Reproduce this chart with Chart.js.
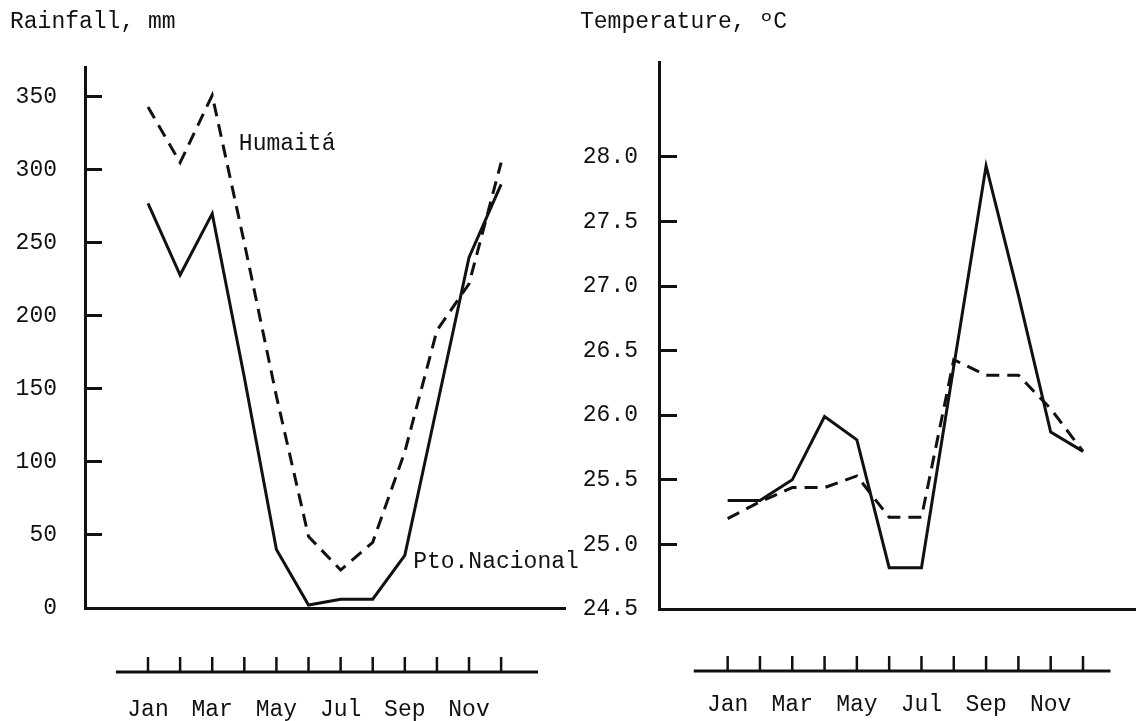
<!DOCTYPE html>
<html><head><meta charset="utf-8">
<script src="https://cdn.jsdelivr.net/npm/chart.js@4.4.0/dist/chart.umd.min.js"></script>
<style>
html,body{margin:0;padding:0;background:#fff;width:1136px;height:721px;overflow:hidden;position:relative}
canvas{position:absolute;top:0}
#rain{left:0}
#temp{left:570px}
</style></head><body>
<canvas id="rain" width="600" height="721"></canvas>
<canvas id="temp" width="595" height="721"></canvas>
<script>
// ---- data ----
const months = [1,2,3,4,5,6,7,8,9,10,11,12];
const monthLabels = ['Jan','','Mar','','May','','Jul','','Sep','','Nov',''];
const rainPtoNacional = [277,228,270,158,40,2,6,6,36,138,240,290];
const rainHumaita     = [343,305,351,250,145,49,26,45,107,190,222,305];
const rainTicks = [0,50,100,150,200,250,300,350];
const tempPtoNacional = [25.34,25.34,25.50,25.99,25.81,24.82,24.82,26.38,27.93,26.93,25.87,25.72];
const tempHumaita     = [25.20,25.33,25.44,25.44,25.53,25.21,25.21,26.43,26.31,26.31,26.05,25.72];
const tempTicks = [24.5,25.0,25.5,26.0,26.5,27.0,27.5,28.0];

const INK = '#111';
const FONT = 'Liberation Mono';
Chart.defaults.font.family = FONT;
Chart.defaults.font.size = 23;
Chart.defaults.color = INK;

function stripPlugin(cfg) {
  return {
    id: 'strip',
    afterDraw(chart) {
      const {ctx, chartArea} = chart;
      const x = chart.scales.x, y = chart.scales.y;
      const sy = chartArea.bottom + cfg.offset;
      ctx.save();
      ctx.strokeStyle = INK;
      ctx.lineCap = 'butt';
      ctx.lineWidth = 3;
      ctx.beginPath();
      ctx.moveTo(x.getPixelForValue(months[0] - cfg.padLeft), sy);
      ctx.lineTo(x.getPixelForValue(months[months.length-1] + cfg.padRight), sy);
      ctx.stroke();
      ctx.lineWidth = 2.5;
      months.forEach(m => {
        const px = x.getPixelForValue(m);
        ctx.beginPath();
        ctx.moveTo(px, sy);
        ctx.lineTo(px, sy - 15);
        ctx.stroke();
      });
      ctx.fillStyle = INK;
      ctx.font = '23px "' + FONT + '"';
      ctx.textBaseline = 'middle';
      ctx.textAlign = 'left';
      (cfg.notes || []).forEach(n => {
        ctx.fillText(n.text, x.getPixelForValue(n.x), y.getPixelForValue(n.y));
      });
      ctx.restore();
    }
  };
}

function lineDs(label, vals, dashed) {
  return {
    label,
    data: vals.map((v, i) => ({x: months[i], y: v})),
    borderColor: INK,
    borderWidth: 3,
    borderDash: dashed ? [13, 8] : [],
    pointRadius: 0,
    tension: 0,
    fill: false
  };
}

function makeOptions(o) {
  return {
    responsive: false,
    animation: false,
    devicePixelRatio: 1,
    layout: {padding: o.layoutPad},
    plugins: {
      legend: {display: false},
      tooltip: {enabled: false},
      title: {
        display: true, text: o.title, align: 'start', color: INK,
        font: {size: 23, family: FONT, weight: 'normal'},
        padding: {top: 8, bottom: o.titleBottom}
      }
    },
    scales: {
      x: {
        type: 'linear', min: o.xMin, max: o.xMax,
        afterBuildTicks: s => { s.ticks = months.map(v => ({value: v})); },
        afterFit: s => { s.height = o.xHeight; },
        ticks: {autoSkip: false, maxRotation: 0, minRotation: 0, padding: o.xPad,
                callback: v => monthLabels[v - 1] || ''},
        grid: {display: false, drawTicks: false},
        border: {display: true, width: 3, color: INK}
      },
      y: {
        min: o.yMin, max: o.yMax,
        afterBuildTicks: s => { s.ticks = o.yTicks.map(v => ({value: v})); },
        afterFit: s => { s.width = o.yWidth; },
        ticks: {padding: o.yPad, callback: o.yFmt},
        grid: {display: true, drawOnChartArea: false, drawTicks: true,
               tickLength: o.tickLen, tickWidth: 3, tickColor: INK, color: INK, lineWidth: 3},
        border: {display: true, width: 3, color: INK}
      }
    }
  };
}

new Chart(document.getElementById('rain'), {
  type: 'line',
  data: {datasets: [lineDs('Pto.Nacional', rainPtoNacional, false), lineDs('Humaitá', rainHumaita, true)]},
  options: makeOptions({
    title: 'Rainfall, mm', titleBottom: 32,
    layoutPad: {left: 10, right: 35, top: 0, bottom: 0},
    xMin: -0.963, xMax: 13.99, xHeight: 113, xPad: 88,
    yMin: 0, yMax: 370, yTicks: rainTicks, yWidth: 75, yPad: 45, tickLen: -17,
    yFmt: v => String(v)
  }),
  plugins: [stripPlugin({offset: 64, padLeft: 1.0, padRight: 1.15,
    notes: [{text: 'Humaitá', x: 3.83, y: 318}, {text: 'Pto.Nacional', x: 9.26, y: 31.5}]})]
});

new Chart(document.getElementById('temp'), {
  type: 'line',
  data: {datasets: [lineDs('Pto.Nacional', tempPtoNacional, false), lineDs('Humaitá', tempHumaita, true)]},
  options: makeOptions({
    title: 'Temperature, ºC', titleBottom: 27,
    layoutPad: {left: 10, right: 0, top: 0, bottom: 0},
    xMin: -1.125, xMax: 13.78, xHeight: 112, xPad: 82,
    yMin: 24.5, yMax: 28.73, yTicks: tempTicks, yWidth: 79, yPad: 39, tickLen: -18,
    yFmt: v => v.toFixed(1)
  }),
  plugins: [stripPlugin({offset: 62, padLeft: 1.05, padRight: 0.85, notes: []})]
});
</script>
</body></html>
